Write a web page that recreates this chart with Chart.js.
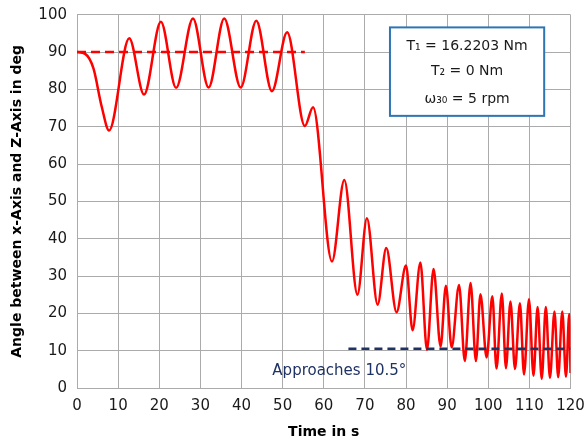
<!DOCTYPE html>
<html>
<head>
<meta charset="utf-8">
<script src="https://cdn.jsdelivr.net/npm/chart.js@4.4.1/dist/chart.umd.min.js"></script>
<style>
  html, body { margin: 0; padding: 0; background: #fff; }
  #wrap { width: 585px; height: 443px; }
</style>
</head>
<body>
<div id="wrap"><canvas id="angleChart"></canvas></div>
<script>
// values (time in s, angle in deg)
const timeS = [0, 2, 4, 6, 7.8, 12.7, 16.3, 20.4, 24.1, 28.2, 32.0, 35.8, 39.8, 43.6, 47.4,
    51.1, 55.4, 57.4, 62.0, 65.0, 68.2, 70.5, 73.1, 75.2, 77.7, 80.0, 81.6, 83.5, 85.1,
    86.7, 88.4, 89.7, 91.1, 92.9, 94.3, 95.7, 97.0, 98.1, 99.6, 101.0, 102.0, 103.3, 104.3, 105.4,
    106.5, 107.7, 108.7, 109.9, 111.0, 112.0, 113.0, 114.0, 115.0, 116.1, 117.0, 118.0, 118.9, 119.7, 120]
const angleDeg = [90, 89.5, 85.6, 75.4, 69.0, 93.7, 78.6, 98.1, 80.4, 99.0, 80.5, 99.0, 80.5, 98.4, 79.5,
    95.3, 70.2, 75.2, 33.9, 55.7, 25.0, 45.5, 22.3, 37.5, 20.3, 32.8, 15.5, 33.6, 10.2,
    31.9, 11.1, 27.4, 10.9, 27.6, 7.2, 28.1, 7.2, 25.1, 8.2, 24.6, 5.2, 25.3, 5.3, 23.2,
    5.1, 22.7, 3.6, 23.8, 3.3, 21.7, 2.4, 21.7, 2.7, 20.5, 2.9, 20.5, 3.0, 19.8, 4.0]

const startLevelX = [0, 55.4]
const startLevelY = [90, 90]
const approachX = [66, 120]
const approachY = [10.5, 10.5]

const infoLines = ['T\u2081 = 16.2203 Nm', 'T\u2082 = 0 Nm', '\u03C9\u2083\u2080 = 5 rpm']
const approachText = 'Approaches 10.5\u00B0'

const toPoints = (xs, ys) => xs.map((x, i) => ({ x: x, y: ys[i] }))

Chart.defaults.font.family = "'DejaVu Sans', sans-serif"

// text box + note, placed in data units
const notesPlugin = {
    id: 'notes',
    afterDatasetsDraw(chart) {
        const ctx = chart.ctx
        const sx = chart.scales.x
        const sy = chart.scales.y
        const x1 = sx.getPixelForValue(76.1), x2 = sx.getPixelForValue(113.6)
        const y1 = sy.getPixelForValue(96.6), y2 = sy.getPixelForValue(72.9)
        ctx.save()
        ctx.fillStyle = '#ffffff'
        ctx.fillRect(x1, y1, x2 - x1, y2 - y1)
        ctx.strokeStyle = '#2e75b6'
        ctx.lineWidth = 2
        ctx.strokeRect(x1, y1, x2 - x1, y2 - y1)
        ctx.fillStyle = '#1a1a1a'
        ctx.font = "14px 'DejaVu Sans'"
        ctx.textAlign = 'center'
        ctx.textBaseline = 'middle'
        const cx = (x1 + x2) / 2
        const rows = [91.6, 84.8, 77.2]
        infoLines.forEach((t, i) => ctx.fillText(t, cx, sy.getPixelForValue(rows[i])))

        ctx.fillStyle = '#1f3264'
        ctx.font = "15px 'DejaVu Sans'"
        ctx.textAlign = 'left'
        ctx.fillText(approachText, sx.getPixelForValue(47.5), sy.getPixelForValue(4.5))
        ctx.restore()
    }
}

new Chart(document.getElementById('angleChart').getContext('2d'), {
    type: 'line',
    data: {
        datasets: [{
            label: 'approach',
            data: toPoints(approachX, approachY),
            borderColor: '#1f3264',
            borderWidth: 2.5,
            borderDash: [8, 5],
            pointRadius: 0,
            fill: false
        }, {
            label: 'angle',
            data: toPoints(timeS, angleDeg),
            borderColor: '#ff0000',
            borderWidth: 2.5,
            pointRadius: 0,
            cubicInterpolationMode: 'monotone',
            fill: false
        }, {
            label: 'start',
            data: toPoints(startLevelX, startLevelY),
            borderColor: '#ff0000',
            borderWidth: 2.5,
            borderDash: [9, 5],
            pointRadius: 0,
            fill: false
        }]
    },
    options: {
        responsive: true,
        maintainAspectRatio: false,
        animation: false,
        layout: { padding: { top: 14.7, right: 14.5, left: 0, bottom: 0 } },
        plugins: {
            legend: { display: false },
            tooltip: { enabled: false }
        },
        scales: {
            x: {
                type: 'linear',
                min: 0,
                max: 120,
                afterFit: s => {
                    s.height = 55
                    s.paddingLeft = 0
                    s.paddingRight = 0
                },
                grid: { color: '#ababab', drawTicks: false },
                border: { color: '#ababab' },
                ticks: { stepSize: 10, padding: 9, color: '#1a1a1a', font: { size: 15 } },
                title: {
                    display: true,
                    text: 'Time in s',
                    color: '#000',
                    font: { size: 14, weight: 'bold' },
                    padding: { top: 0, bottom: 2 }
                }
            },
            y: {
                min: 0,
                max: 100,
                afterFit: s => {
                    s.width = 77
                    s.paddingTop = 0
                    s.paddingBottom = 0
                },
                grid: { color: '#ababab', drawTicks: false },
                border: { color: '#ababab' },
                ticks: { stepSize: 10, padding: 10, color: '#1a1a1a', font: { size: 15 } },
                title: {
                    display: true,
                    text: 'Angle between x-Axis and Z-Axis in deg',
                    color: '#000',
                    font: { size: 14, weight: 'bold' },
                    padding: { top: 9, bottom: 0 }
                }
            }
        }
    },
    plugins: [notesPlugin]
})
</script>
</body>
</html>
